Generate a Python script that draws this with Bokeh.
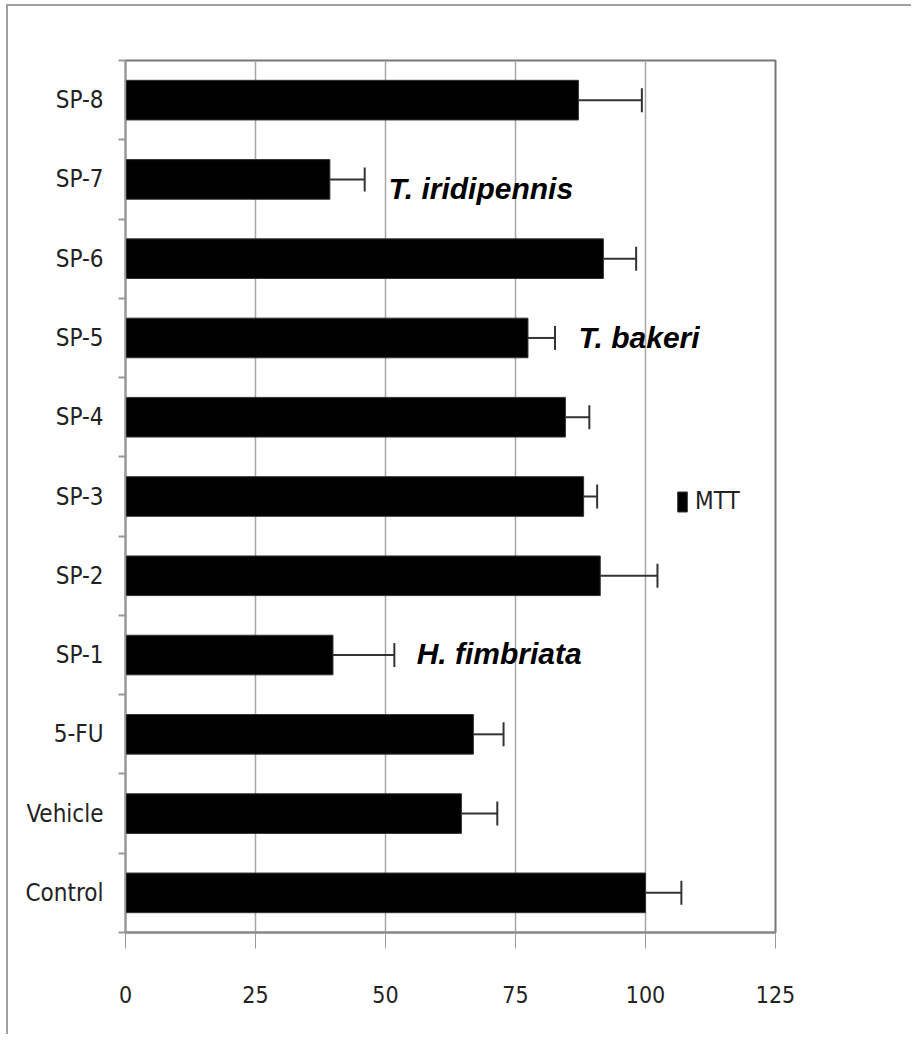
from bokeh.plotting import figure
from bokeh.models import (ColumnDataSource, Range1d, FixedTicker, Whisker, TeeHead,
                          Legend, LegendItem)
from bokeh.core.properties import value
from bokeh.embed import file_html
from bokeh.resources import INLINE

# ---- data (bottom to top) ----
categories = ["Control", "Vehicle", "5-FU", "SP-1", "SP-2", "SP-3",
              "SP-4", "SP-5", "SP-6", "SP-7", "SP-8"]
mtt = [100.0, 64.6, 66.9, 39.9, 91.3, 88.1, 84.6, 77.4, 91.9, 39.3, 87.1]
mtt_err = [6.9, 6.9, 5.8, 11.8, 11.0, 2.6, 4.6, 5.2, 6.3, 6.7, 12.2]
x_ticks = [0, 25, 50, 75, 100, 125]

annot_text = ["T. iridipennis", "T. bakeri", "H. fimbriata"]
annot_cat = ["SP-7", "SP-5", "SP-1"]
annot_x = [50.6, 87.1, 56.0]
annot_dy = [9, 0, -2]

NARROW = "DejaVu Sans Condensed"

ypos = [i + 0.5 for i in range(len(categories))]
src = ColumnDataSource(dict(y=ypos, v=mtt, top=[m + e for m, e in zip(mtt, mtt_err)]))

p = figure(width=905, height=1030, output_backend="svg", toolbar_location=None,
           x_range=Range1d(0, 125), y_range=Range1d(0, len(categories)),
           min_border_left=117, min_border_top=54, min_border_right=138,
           min_border_bottom=104)
p.styles = {"border-left": "2px solid #a0a0a0", "border-top": "2px solid #a0a0a0",
            "margin-left": "6px", "margin-top": "4px"}

p.outline_line_color = "#777777"
p.outline_line_width = 2
p.background_fill_color = "white"
p.border_fill_color = "white"

bars = p.hbar(y="y", right="v", left=0, height=0.5, source=src,
              fill_color="black", line_color="#333333", line_width=1)

err = Whisker(base="y", lower="v", upper="top", dimension="width", source=src,
              line_color="#333333", line_width=2,
              lower_head=None,
              upper_head=TeeHead(size=24, line_color="#333333", line_width=2))
p.add_layout(err)

# annotations
ann_src = ColumnDataSource(dict(
    x=annot_x,
    y=[categories.index(c) + 0.5 for c in annot_cat],
    t=annot_text,
    dy=annot_dy))
p.text(x="x", y="y", text="t", y_offset="dy", source=ann_src,
       text_font=value("Liberation Sans"), text_font_style="bold italic",
       text_font_size="30px", text_baseline="middle", text_align="left",
       text_color="black")

# x axis
p.xaxis.ticker = FixedTicker(ticks=x_ticks)
p.xaxis.axis_line_color = "#8a8a8a"
p.xaxis.axis_line_width = 2
p.xaxis.major_tick_in = 0
p.xaxis.major_tick_out = 16
p.xaxis.major_tick_line_color = "#999999"
p.xaxis.minor_tick_line_color = None
p.xaxis.major_label_standoff = 37
p.xaxis.major_label_text_font = NARROW
p.xaxis.major_label_text_font_size = "23px"
p.xaxis.major_label_text_color = "#222222"

# y axis
p.yaxis.ticker = FixedTicker(ticks=ypos, minor_ticks=list(range(len(categories) + 1)))
p.yaxis.major_label_overrides = {y: c for y, c in zip(ypos, categories)}
p.yaxis.major_tick_line_color = None
p.yaxis.major_tick_in = 0
p.yaxis.major_tick_out = 0
p.yaxis.minor_tick_in = 0
p.yaxis.minor_tick_out = 7
p.yaxis.minor_tick_line_color = "#999999"
p.yaxis.minor_tick_line_width = 2
p.yaxis.axis_line_color = "#999999"
p.yaxis.axis_line_width = 1.5
p.yaxis.major_label_standoff = 15
p.yaxis.major_label_text_font = NARROW
p.yaxis.major_label_text_font_size = "24px"
p.yaxis.major_label_text_color = "#222222"

# grid
p.xgrid.ticker = FixedTicker(ticks=x_ticks)
p.xgrid.grid_line_color = "#a6a6a6"
p.xgrid.grid_line_width = 1.5
p.ygrid.grid_line_color = None

# legend
legend = Legend(items=[LegendItem(label="MTT", renderers=[bars])],
                location=(551, 417), orientation="vertical")
legend.glyph_width = 12
legend.glyph_height = 25
legend.label_standoff = 7
legend.padding = 0
legend.margin = 0
legend.border_line_color = None
legend.background_fill_alpha = 0
legend.label_text_font = NARROW
legend.label_text_font_size = "24px"
legend.label_text_color = "#222222"
p.add_layout(legend)

open("out.html", "w").write(file_html(p, INLINE))
